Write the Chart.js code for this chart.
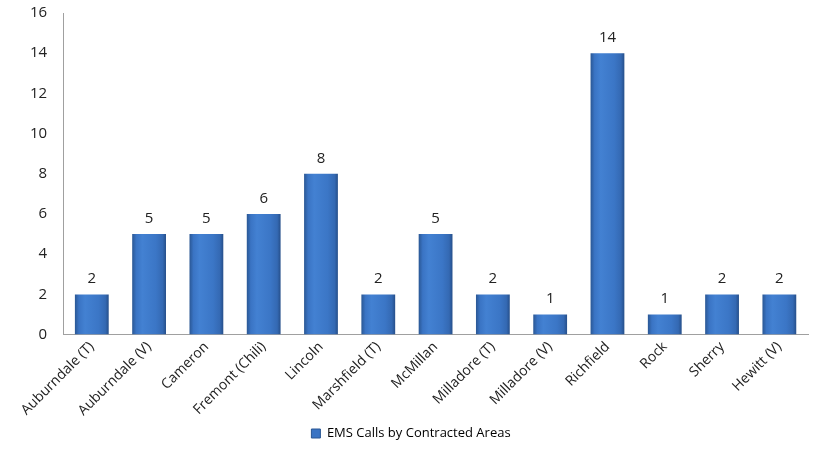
<!DOCTYPE html>
<html lang="en">
<head>
  <meta charset="UTF-8" />
  <title>EMS Calls by Contracted Areas</title>
  <script src="https://cdn.jsdelivr.net/npm/chart.js"></script>
  <style>
    html, body { margin: 0; padding: 0; background: #fff; }
    .wrap { width: 813px; height: 468px; }
  </style>
</head>
<body>
  <div class="wrap"><canvas id="chart-ems"></canvas></div>

  <script>
    // datos
    const areas = [
      "Auburndale (T)", "Auburndale (V)", "Cameron", "Fremont (Chili)", "Lincoln",
      "Marshfield (T)", "McMillan", "Milladore (T)", "Milladore (V)", "Richfield",
      "Rock", "Sherry", "Hewitt (V)"
    ];
    const calls = [2, 5, 5, 6, 8, 2, 5, 2, 1, 14, 1, 2, 2];
    const seriesName = "EMS Calls by Contracted Areas";
    const yTicks = [0, 2, 4, 6, 8, 10, 12, 14, 16];

    const fontFamily = "'Open Sans', 'DejaVu Sans', sans-serif";
    const barPct = 0.59;

    // degradado horizontal por barra (scriptable, asi no se comparte)
    function barFill(c) {
      const xs = c.chart.scales.x;
      if (!xs || c.dataIndex === undefined || !xs.width) return '#3a74c4';
      const cx = xs.getPixelForValue(c.dataIndex);
      const w = xs.width / areas.length * barPct;
      const left = cx - w / 2;
      const g = c.chart.ctx.createLinearGradient(left, 0, left + w, 0);
      g.addColorStop(0, '#2a5794');
      g.addColorStop(0.12, '#3a74c4');
      g.addColorStop(0.3, '#4381d2');
      g.addColorStop(0.7, '#3b76c6');
      g.addColorStop(0.9, '#3469b3');
      g.addColorStop(1, '#264f8a');
      return g;
    }

    // valores encima de las barras
    const valueLabels = {
      id: 'valueLabels',
      afterDatasetsDraw(chart) {
        const ctx = chart.ctx;
        ctx.save();
        ctx.font = "15px " + fontFamily;
        ctx.fillStyle = '#222';
        ctx.textAlign = 'center';
        ctx.textBaseline = 'bottom';
        chart.getDatasetMeta(0).data.forEach((bar, i) => {
          ctx.fillText(calls[i], bar.x, bar.y - 8);
        });
        ctx.restore();
      }
    };

    new Chart(document.getElementById('chart-ems'), {
      type: 'bar',
      data: {
        labels: areas,
        datasets: [{
          label: seriesName,
          data: calls,
          backgroundColor: barFill,
          borderWidth: 0,
          categoryPercentage: 1.0,
          barPercentage: barPct
        }]
      },
      options: {
        responsive: true,
        maintainAspectRatio: false,
        animation: false,
        layout: { padding: { top: 13, left: 14, right: 5, bottom: 18 } },
        plugins: {
          legend: {
            position: 'bottom',
            labels: {
              boxWidth: 9,
              boxHeight: 9,
              padding: 4,
              color: '#222',
              font: { family: fontFamily, size: 13 },
              generateLabels: () => [{
                text: seriesName,
                fillStyle: '#3a74c4',
                strokeStyle: '#2a5794',
                lineWidth: 1
              }]
            }
          },
          tooltip: { enabled: false }
        },
        scales: {
          x: {
            grid: { display: false, drawTicks: false },
            border: { display: true, color: '#a0a0a0' },
            ticks: {
              color: '#222',
              font: { family: fontFamily, size: 14 },
              maxRotation: 45,
              minRotation: 45,
              padding: 4
            }
          },
          y: {
            min: 0,
            max: 16,
            afterBuildTicks: axis => { axis.ticks = yTicks.map(v => ({ value: v })); },
            afterFit: axis => { axis.paddingTop = 0; },
            grid: { display: false, drawTicks: false },
            border: { display: true, color: '#a0a0a0' },
            ticks: {
              color: '#222',
              font: { family: fontFamily, size: 15 },
              padding: 16
            }
          }
        }
      },
      plugins: [valueLabels]
    });
  </script>
</body>
</html>
